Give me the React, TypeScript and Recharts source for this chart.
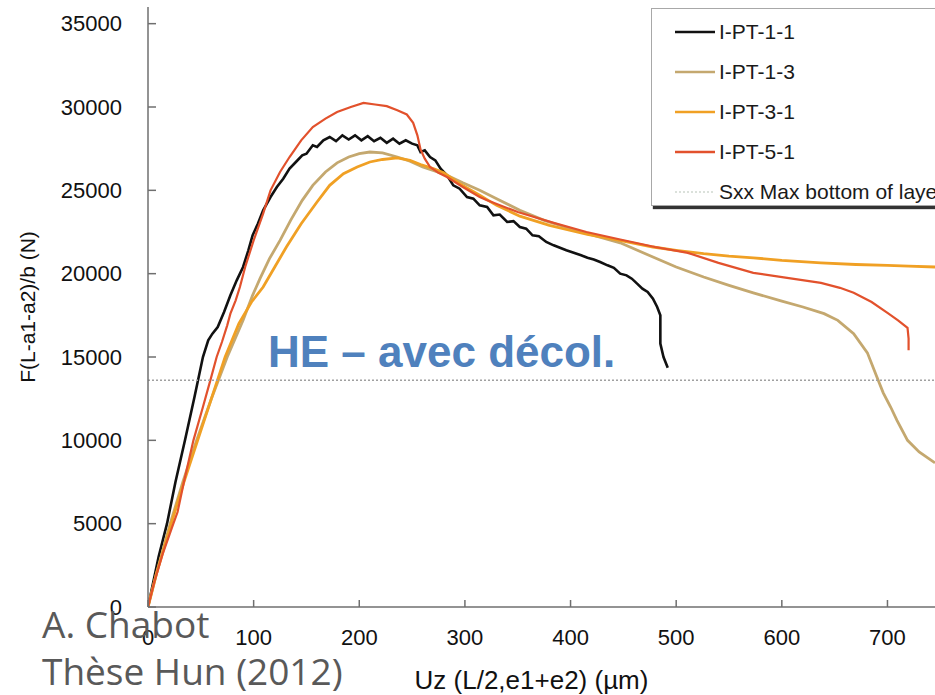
import React from "react";
import { Label, Legend, Line, LineChart, XAxis, YAxis } from "recharts";

type Pt = { x: number; y: number };

const xTicks = [0, 100, 200, 300, 400, 500, 600, 700];
const yTicks = [0, 5000, 10000, 15000, 20000, 25000, 30000, 35000];

// I-PT-1-1 (black, wavy)
const pt11: Pt[] = [
  { x: 0, y: 0 }, { x: 4, y: 1200 }, { x: 10, y: 3000 }, { x: 18, y: 5000 }, { x: 26, y: 7500 },
  { x: 35, y: 10000 }, { x: 44, y: 12600 }, { x: 52, y: 15000 }, { x: 57, y: 16000 }, { x: 61, y: 16400 },
  { x: 66, y: 16800 }, { x: 72, y: 17700 }, { x: 78, y: 18700 }, { x: 84, y: 19600 }, { x: 90, y: 20400 },
  { x: 95, y: 21400 }, { x: 99, y: 22300 }, { x: 104, y: 23000 }, { x: 109, y: 23800 }, { x: 116, y: 24600 },
  { x: 122, y: 25200 }, { x: 128, y: 25700 }, { x: 134, y: 26300 }, { x: 140, y: 26700 }, { x: 146, y: 27100 },
  { x: 150, y: 27200 }, { x: 156, y: 27700 }, { x: 160, y: 27600 }, { x: 166, y: 28000 }, { x: 172, y: 28200 },
  { x: 178, y: 27950 }, { x: 184, y: 28300 }, { x: 190, y: 28050 }, { x: 196, y: 28300 }, { x: 202, y: 28000 },
  { x: 208, y: 28250 }, { x: 214, y: 27950 }, { x: 220, y: 28150 }, { x: 226, y: 27850 }, { x: 232, y: 28100 },
  { x: 238, y: 27800 }, { x: 244, y: 28000 }, { x: 250, y: 27800 }, { x: 255, y: 27700 }, { x: 258, y: 27300 },
  { x: 262, y: 27400 }, { x: 267, y: 27000 }, { x: 272, y: 26800 }, { x: 277, y: 26300 }, { x: 283, y: 25900 },
  { x: 289, y: 25300 }, { x: 295, y: 25100 }, { x: 302, y: 24600 }, { x: 308, y: 24500 }, { x: 314, y: 24100 },
  { x: 321, y: 24000 }, { x: 327, y: 23500 }, { x: 333, y: 23550 }, { x: 340, y: 23100 }, { x: 346, y: 23150 },
  { x: 352, y: 22800 }, { x: 358, y: 22700 }, { x: 364, y: 22300 }, { x: 370, y: 22250 }, { x: 377, y: 21900 },
  { x: 384, y: 21700 }, { x: 390, y: 21550 }, { x: 396, y: 21400 }, { x: 403, y: 21250 }, { x: 410, y: 21100 },
  { x: 416, y: 20950 }, { x: 422, y: 20850 }, { x: 428, y: 20700 }, { x: 435, y: 20500 }, { x: 441, y: 20350 },
  { x: 447, y: 20000 }, { x: 453, y: 19900 }, { x: 458, y: 19700 }, { x: 463, y: 19400 }, { x: 468, y: 19100 },
  { x: 473, y: 18900 }, { x: 478, y: 18500 }, { x: 482, y: 18000 }, { x: 485, y: 17500 }, { x: 485, y: 16500 },
  { x: 485, y: 15800 }, { x: 488, y: 15000 }, { x: 492, y: 14350 },
];

// I-PT-1-3 (tan)
const pt13: Pt[] = [
  { x: 0, y: 0 }, { x: 8, y: 2000 }, { x: 21, y: 5000 }, { x: 33, y: 7500 }, { x: 46, y: 10000 },
  { x: 60, y: 12500 }, { x: 75, y: 15000 }, { x: 90, y: 17200 }, { x: 99, y: 18700 }, { x: 106, y: 19700 },
  { x: 115, y: 20900 }, { x: 125, y: 22000 }, { x: 135, y: 23200 }, { x: 146, y: 24400 }, { x: 156, y: 25300 },
  { x: 168, y: 26100 }, { x: 179, y: 26650 }, { x: 190, y: 27000 }, { x: 200, y: 27200 }, { x: 210, y: 27300 },
  { x: 222, y: 27250 }, { x: 236, y: 27000 }, { x: 248, y: 26750 }, { x: 260, y: 26400 }, { x: 272, y: 26150 },
  { x: 283, y: 25900 }, { x: 298, y: 25450 }, { x: 314, y: 25000 }, { x: 330, y: 24500 }, { x: 352, y: 23800 },
  { x: 375, y: 23200 }, { x: 395, y: 22800 }, { x: 416, y: 22400 }, { x: 447, y: 21850 }, { x: 478, y: 21000 },
  { x: 500, y: 20400 }, { x: 526, y: 19800 }, { x: 550, y: 19300 }, { x: 573, y: 18850 }, { x: 600, y: 18350 },
  { x: 620, y: 18000 }, { x: 640, y: 17600 }, { x: 653, y: 17200 }, { x: 668, y: 16400 }, { x: 681, y: 15250 },
  { x: 690, y: 13800 }, { x: 696, y: 12850 }, { x: 703, y: 12000 }, { x: 709, y: 11200 }, { x: 719, y: 10000 },
  { x: 730, y: 9300 }, { x: 745, y: 8650 },
];

// I-PT-3-1 (orange)
const pt31: Pt[] = [
  { x: 0, y: 0 }, { x: 8, y: 2000 }, { x: 22, y: 5000 }, { x: 34, y: 7500 }, { x: 47, y: 10000 },
  { x: 60, y: 12500 }, { x: 73, y: 15000 }, { x: 86, y: 17000 }, { x: 98, y: 18300 }, { x: 109, y: 19200 },
  { x: 120, y: 20400 }, { x: 131, y: 21600 }, { x: 145, y: 23000 }, { x: 160, y: 24300 }, { x: 172, y: 25300 },
  { x: 185, y: 26000 }, { x: 198, y: 26400 }, { x: 210, y: 26700 }, { x: 222, y: 26850 }, { x: 236, y: 26950 },
  { x: 248, y: 26800 }, { x: 258, y: 26550 }, { x: 270, y: 26300 }, { x: 280, y: 26050 }, { x: 295, y: 25400 },
  { x: 314, y: 24700 }, { x: 330, y: 24100 }, { x: 352, y: 23450 }, { x: 380, y: 22900 }, { x: 416, y: 22350 },
  { x: 450, y: 21950 }, { x: 478, y: 21600 }, { x: 500, y: 21400 }, { x: 526, y: 21200 }, { x: 550, y: 21050 },
  { x: 573, y: 20950 }, { x: 600, y: 20800 }, { x: 637, y: 20650 }, { x: 670, y: 20550 }, { x: 700, y: 20500 },
  { x: 720, y: 20450 }, { x: 745, y: 20400 },
];

// I-PT-5-1 (red)
const pt51: Pt[] = [
  { x: 0, y: 0 }, { x: 6, y: 1500 }, { x: 14, y: 3200 }, { x: 24, y: 5000 }, { x: 28, y: 5700 },
  { x: 34, y: 7500 }, { x: 43, y: 10000 }, { x: 52, y: 12000 }, { x: 59, y: 13600 }, { x: 65, y: 15000 },
  { x: 70, y: 15900 }, { x: 75, y: 16900 }, { x: 78, y: 17600 }, { x: 83, y: 18400 }, { x: 87, y: 19200 },
  { x: 92, y: 20400 }, { x: 100, y: 22000 }, { x: 109, y: 23600 }, { x: 116, y: 25000 }, { x: 125, y: 26100 },
  { x: 134, y: 27000 }, { x: 145, y: 28000 }, { x: 156, y: 28800 }, { x: 168, y: 29300 }, { x: 179, y: 29700 },
  { x: 192, y: 30000 }, { x: 204, y: 30250 }, { x: 215, y: 30150 }, { x: 226, y: 30050 }, { x: 236, y: 29800 },
  { x: 245, y: 29550 }, { x: 251, y: 29050 }, { x: 255, y: 28300 }, { x: 258, y: 27450 }, { x: 262, y: 26900 },
  { x: 267, y: 26400 }, { x: 275, y: 26050 }, { x: 283, y: 25800 }, { x: 298, y: 25200 }, { x: 314, y: 24600 },
  { x: 321, y: 24400 }, { x: 350, y: 23700 }, { x: 384, y: 23050 }, { x: 415, y: 22500 }, { x: 447, y: 22050 },
  { x: 480, y: 21600 }, { x: 511, y: 21250 }, { x: 540, y: 20650 }, { x: 573, y: 20050 }, { x: 605, y: 19750 },
  { x: 637, y: 19450 }, { x: 655, y: 19150 }, { x: 668, y: 18850 }, { x: 685, y: 18300 }, { x: 700, y: 17650 },
  { x: 710, y: 17200 }, { x: 719, y: 16750 }, { x: 720, y: 16100 }, { x: 720, y: 15400 },
];

// Sxx max at bottom of layer (horizontal dotted level)
const sxxMax: Pt[] = [
  { x: 0, y: 13600 },
  { x: 745, y: 13600 },
];

const series = [
  { name: "I-PT-1-1", data: pt11, color: "#111111", width: 2.6, dash: undefined as string | undefined },
  { name: "I-PT-1-3", data: pt13, color: "#c4a86f", width: 2.8, dash: undefined },
  { name: "I-PT-3-1", data: pt31, color: "#f0a024", width: 2.8, dash: undefined },
  { name: "I-PT-5-1", data: pt51, color: "#e2512c", width: 2.2, dash: undefined },
  { name: "Sxx Max bottom of layer", data: sxxMax, color: "#a0a0a0", width: 1.5, dash: "2 2" },
];

const font = "'Liberation Sans', Arial, sans-serif";

function LegendBox() {
  return (
    <div
      style={{
        width: 320,
        height: 198,
        boxSizing: "border-box",
        border: "1px solid #a8a8a8",
        background: "#fff",
        boxShadow: "2px 3px 1px #333",
        paddingTop: 3,
        fontFamily: font,
        fontSize: 21,
        lineHeight: "24px",
        color: "#1a1a1a",
        textAlign: "left",
      }}
    >
      {series.map((s) => (
        <div key={s.name} style={{ display: "flex", alignItems: "center", height: 40, whiteSpace: "nowrap" }}>
          <svg width={67} height={10} style={{ marginLeft: 23, flex: "none" }}>
            <line
              x1={0}
              x2={40}
              y1={5}
              y2={5}
              stroke={s.dash ? "#cfd8cf" : s.color}
              strokeWidth={s.dash ? 1.5 : 2.6}
              strokeDasharray={s.dash}
            />
          </svg>
          <span style={{ marginLeft: -23 }}>{s.name}</span>
        </div>
      ))}
    </div>
  );
}

export default function App() {
  return (
    <div style={{ position: "absolute", left: 0, top: 0, width: 935, height: 695, overflow: "hidden", background: "#fff" }}>
      <style>{`body{margin:0;overflow:hidden}`}</style>
      <LineChart width={935} height={695} margin={{ top: 7, right: 0, bottom: 0, left: 0 }}>
        <XAxis
          type="number"
          dataKey="x"
          domain={[0, 745]}
          ticks={xTicks}
          interval={0}
          allowDataOverflow
          height={88}
          axisLine={{ stroke: "#6f6f6f", strokeWidth: 1.5 }}
          tickLine={{ stroke: "#6f6f6f", strokeWidth: 1.5 }}
          tickSize={-7}
          tickMargin={29}
          tick={{ fill: "#111", fontSize: 22, fontFamily: font }}
        >
          <Label
            value="Uz (L/2,e1+e2) (µm)"
            position="insideBottom"
            offset={6}
            dx={-10}
            style={{ fill: "#111", fontSize: 26, fontFamily: font }}
          />
        </XAxis>
        <YAxis
          type="number"
          domain={[0, 36000]}
          ticks={yTicks}
          interval={0}
          allowDataOverflow
          width={148}
          axisLine={{ stroke: "#6f6f6f", strokeWidth: 1.5 }}
          tickLine={{ stroke: "#6f6f6f", strokeWidth: 1.5 }}
          tickSize={-8}
          tickMargin={34}
          tick={{ fill: "#111", fontSize: 22, fontFamily: font }}
        >
          <Label
            value="F(L-a1-a2)/b (N)"
            angle={-90}
            position="insideLeft"
            offset={28}
            style={{ fill: "#111", fontSize: 21, fontFamily: font, textAnchor: "middle" }}
          />
        </YAxis>
        <Legend
          layout="horizontal"
          verticalAlign="middle"
          align="center"
          content={() => <LegendBox />}
          wrapperStyle={{ left: 651, top: 8, width: 320, height: 198 }}
        />
        {series.map((s) => (
          <Line
            key={s.name}
            name={s.name}
            data={s.data}
            dataKey="y"
            type="linear"
            stroke={s.color}
            strokeWidth={s.width}
            strokeDasharray={s.dash}
            dot={false}
            activeDot={false}
            isAnimationActive={false}
          />
        ))}
      </LineChart>
      <svg
        width={935}
        height={695}
        style={{ position: "absolute", left: 0, top: 0, pointerEvents: "none" }}
      >
        <text x={268} y={367} fill="#4f81bd" fontSize={44} fontWeight="bold" fontFamily={font}>
          HE – avec décol.
        </text>
        <text x={42} y={638} fill="#595959" fontSize={37} fontFamily="'Open Sans', sans-serif">
          A. Chabot
        </text>
        <text x={42} y={685} fill="#595959" fontSize={37} fontFamily="'Open Sans', sans-serif">
          Thèse Hun (2012)
        </text>
      </svg>
    </div>
  );
}
